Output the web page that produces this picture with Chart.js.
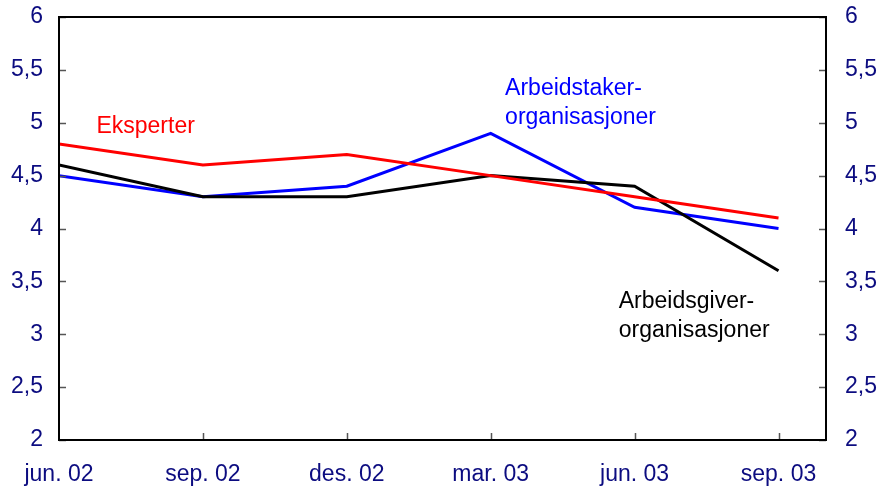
<!DOCTYPE html>
<html>
<head>
<meta charset="utf-8">
<script src="https://cdn.jsdelivr.net/npm/chart.js@4/dist/chart.umd.min.js"></script>
<style>
  html, body { margin: 0; padding: 0; background: #fff; }
  #wrap { width: 881px; height: 487px; }
</style>
</head>
<body>
<div id="wrap"><canvas id="myChart"></canvas></div>
<script>
const categories = ['jun. 02', 'sep. 02', 'des. 02', 'mar. 03', 'jun. 03', 'sep. 03'];
const eksperter = [4.8, 4.6, 4.7, 4.5, 4.3, 4.1];
const arbeidsgiver = [4.6, 4.3, 4.3, 4.5, 4.4, 3.6];
const arbeidstaker = [4.5, 4.3, 4.4, 4.9, 4.2, 4.0];
const yTicks = [2, 2.5, 3, 3.5, 4, 4.5, 5, 5.5, 6];

const navy = '#0c0c80';
const fontFamily = '"Liberation Sans", Arial, sans-serif';
const fontSize = 23;

// text labels put next to the lines (in data units)
const seriesLabels = [
  { lines: ['Eksperter'], color: '#ff0000', x: 0.26, y: 4.96 },
  { lines: ['Arbeidstaker-', 'organisasjoner'], color: '#0000ff', x: 3.10, y: 5.32 },
  { lines: ['Arbeidsgiver-', 'organisasjoner'], color: '#000000', x: 3.89, y: 3.31 }
];

const toPoints = arr => arr.map((v, i) => ({ x: i, y: v }));
const fmt = v => String(v).replace('.', ',');

const boxAndTicks = {
  id: 'boxAndTicks',
  afterDatasetsDraw(chart) {
    const ctx = chart.ctx;
    const a = chart.chartArea;
    const xs = chart.scales.x, ys = chart.scales.y;
    ctx.save();
    ctx.strokeStyle = '#555';
    ctx.lineWidth = 1.5;
    ctx.beginPath();
    yTicks.forEach(t => {
      const py = Math.round(ys.getPixelForValue(t)) + 0.5;
      ctx.moveTo(a.left, py); ctx.lineTo(a.left + 7, py);
      ctx.moveTo(a.right, py); ctx.lineTo(a.right - 7, py);
    });
    categories.forEach((c, i) => {
      if (i === 0) return;
      const px = Math.round(xs.getPixelForValue(i)) + 0.5;
      ctx.moveTo(px, a.bottom); ctx.lineTo(px, a.bottom - 7);
    });
    ctx.stroke();
    ctx.strokeStyle = '#000';
    ctx.lineWidth = 2;
    ctx.strokeRect(a.left, a.top, a.right - a.left, a.bottom - a.top);

    ctx.font = fontSize + 'px ' + fontFamily;
    ctx.textBaseline = 'middle';
    ctx.textAlign = 'left';
    seriesLabels.forEach(l => {
      ctx.fillStyle = l.color;
      const px = xs.getPixelForValue(l.x);
      const py = ys.getPixelForValue(l.y);
      l.lines.forEach((s, k) => ctx.fillText(s, px, py + k * 29));
    });
    ctx.restore();
  }
};

const ds = (label, arr, color) => ({
  label: label,
  data: toPoints(arr),
  borderColor: color,
  backgroundColor: color,
  borderWidth: 3,
  pointRadius: 0,
  tension: 0,
  yAxisID: 'y'
});

const fitY = w => s => { s.width = w; s.paddingTop = 0; s.paddingBottom = 0; };

new Chart(document.getElementById('myChart').getContext('2d'), {
  type: 'line',
  data: {
    datasets: [
      ds('Eksperter', eksperter, '#ff0000'),
      ds('Arbeidsgiverorganisasjoner', arbeidsgiver, '#000000'),
      ds('Arbeidstakerorganisasjoner', arbeidstaker, '#0000ff')
    ]
  },
  options: {
    responsive: true,
    maintainAspectRatio: false,
    animation: false,
    layout: { padding: { top: 17, left: 0, right: 0, bottom: 0 } },
    plugins: { legend: { display: false }, tooltip: { enabled: false } },
    scales: {
      x: {
        type: 'linear',
        min: 0,
        max: 5.33,
        afterBuildTicks: s => { s.ticks = categories.map((c, i) => ({ value: i })); },
        afterFit: s => { s.height = 47; s.paddingLeft = 0; s.paddingRight = 0; },
        grid: { display: false, drawTicks: false },
        border: { display: false },
        ticks: {
          padding: 21,
          color: navy,
          font: { family: fontFamily, size: fontSize },
          maxRotation: 0,
          autoSkip: false,
          callback: v => categories[v]
        }
      },
      y: {
        position: 'left',
        min: 2, max: 6,
        afterBuildTicks: s => { s.ticks = yTicks.map(v => ({ value: v })); },
        afterFit: fitY(59),
        grid: { display: false, drawTicks: false },
        border: { display: false },
        ticks: { padding: 16, color: navy, font: { family: fontFamily, size: fontSize }, callback: fmt }
      },
      y2: {
        position: 'right',
        min: 2, max: 6,
        afterBuildTicks: s => { s.ticks = yTicks.map(v => ({ value: v })); },
        afterFit: fitY(55),
        grid: { display: false, drawTicks: false },
        border: { display: false },
        ticks: { padding: 19, color: navy, font: { family: fontFamily, size: fontSize }, callback: fmt }
      }
    }
  },
  plugins: [boxAndTicks]
});
</script>
</body>
</html>
